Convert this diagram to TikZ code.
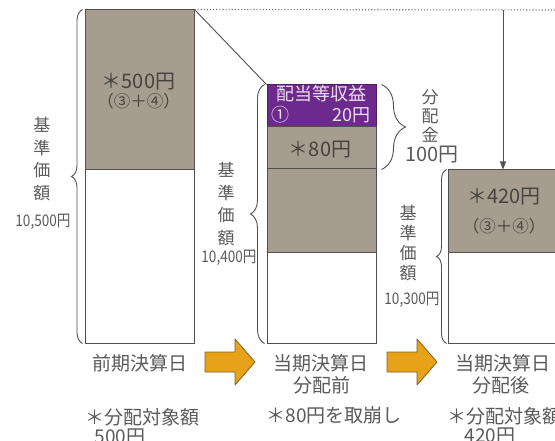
\documentclass[tikz,border=0pt]{standalone}
\usepackage{fontspec}
\usepackage{graphicx}
\newfontfamily\jp{Noto Sans CJK JP}
\usetikzlibrary{arrows.meta,decorations.pathreplacing}
\definecolor{blk}{HTML}{A69D90}
\definecolor{edge}{HTML}{505050}
\definecolor{txt}{HTML}{5A5A5A}
\definecolor{dtxt}{HTML}{48433E}
\definecolor{purp}{HTML}{6B2A8C}
\definecolor{lav}{HTML}{EEDDF5}
\definecolor{org}{HTML}{E8A21A}
\definecolor{orgedge}{HTML}{7A6420}
\begin{document}
\begin{tikzpicture}[x=1pt,y=-1pt,
  barbox/.style={draw=edge, line width=1pt, inner sep=0pt, minimum width=109pt},
  bracedraw/.style={draw=edge, line width=0.9pt, decorate, decoration={brace, amplitude=#1}},
  lbl/.style={font=\jp\fontsize{19}{22}\selectfont, text=txt, inner sep=0pt},
  inlbl/.style={font=\jp\fontsize{20}{22}\selectfont, text=dtxt, inner sep=0pt},
  parlbl/.style={font=\jp\fontsize{16.5}{18}\selectfont, text=dtxt, inner sep=0pt},
  vlbl/.style={font=\jp\fontsize{17}{#1}\selectfont, text=txt, inner sep=0pt, align=center},
  numlbl/.style={font=\jp\fontsize{16}{18}\selectfont, text=txt, inner sep=0pt},
  purlbl/.style={font=\jp\fontsize{18}{20}\selectfont, text=lav, inner sep=0pt},
  blockarrow/.style={fill=org, draw=orgedge, line width=0.8pt, line join=round}
]
\clip (0,0) rectangle (555,441);
\fill[white] (0,0) rectangle (555,441);

% bars
\node[barbox, fill=blk, minimum height=160pt] (b1g) at (139.5,90) {};
\node[barbox, fill=white, minimum height=173pt] (b1w) at (139.5,256.5) {};

\node[barbox, fill=purp, draw=purp!70!black, minimum height=42pt] (b2p) at (321.5,106) {};
\node[barbox, fill=blk, minimum height=42pt] (b2a) at (321.5,148) {};
\node[barbox, fill=blk, minimum height=84pt] (b2g) at (321.5,211) {};
\node[barbox, fill=white, minimum height=90pt] (b2w) at (321.5,298) {};

\node[barbox, fill=blk, minimum width=120pt, minimum height=83pt] (b3g) at (508,211.5) {};
\node[barbox, fill=white, minimum width=120pt, minimum height=90pt] (b3w) at (508,298) {};

% connectors
\coordinate (dotend) at (560,10);
\coordinate (arrtop) at (503,10);
\draw[edge, line width=0.9pt] (b1g.north east) -- (b2p.north west);
\draw[edge!80, line width=1.1pt, dotted] (b1g.north east) -- (dotend);
\draw[edge, line width=0.9pt, -{Triangle[width=6pt,length=8pt]}] (arrtop) -- (arrtop |- b3g.north);

% braces
\draw[bracedraw=11] ([xshift=-2pt]b1w.south west) -- ([xshift=-2pt]b1g.north west);
\draw[bracedraw=14] ([xshift=-2pt]b2w.south west) -- ([xshift=-2pt]b2p.north west);
\draw[bracedraw=10] ([xshift=-1pt]b3w.south west) -- ([xshift=-1pt]b3g.north west);
\draw[bracedraw=24] ([xshift=5pt]b2p.north east) -- ([xshift=5pt]b2a.south east);

% texts inside bars
\node[inlbl] (t500) at (138.5,82) {＊500円};
\node[parlbl] (p500) at (138.5,101) {（③＋④）};
\node[purlbl] (tp1) at (321,94) {配当等収益};
\node[purlbl] (tp2) at (280,115) {①};
\node[purlbl, anchor=east] (tp3) at (371,115) {20円};
\node[inlbl] (t80) at (320,150) {＊80円};
\node[inlbl] (t420) at (504,197) {＊420円};
\node[parlbl] (p420) at (504,226) {（③＋④）};

% vertical labels
\node[vlbl=22.7] (v1) at (42,159) {基\\準\\価\\額};
\node[numlbl] (n1) at (43,222) {\scalebox{0.85}[1]{10,500円}};
\node[vlbl=22.5] (v2) at (226,204) {基\\準\\価\\額};
\node[numlbl] (n2) at (229,258) {\scalebox{0.85}[1]{10,400円}};
\node[vlbl=20] (v3) at (408,243) {基\\準\\価\\額};
\node[numlbl] (n3) at (412,300) {\scalebox{0.85}[1]{10,300円}};
\node[vlbl=19] (v4) at (430,116) {分\\配\\金};
\node[font=\jp\fontsize{20}{22}\selectfont, text=txt, inner sep=0pt] (n4) at (432,155) {100円};

% block arrows
\path[blockarrow] (205,352) -- (235,352) -- (235,339) -- (255,362) -- (235,385) -- (235,372) -- (205,372) -- cycle;
\path[blockarrow] (387,352) -- (417,352) -- (417,339) -- (437,362) -- (417,385) -- (417,372) -- (387,372) -- cycle;

% bottom labels
\node[lbl] (d1) at (140,363) {前期決算日};
\node[lbl] (d2) at (321,363) {当期決算日};
\node[lbl] (d2b) at (322,385) {分配前};
\node[lbl] (d3) at (503,363) {当期決算日};
\node[lbl] (d3b) at (501,385) {分配後};
\node[lbl] (e1) at (142,417) {＊分配対象額};
\node[lbl] (e1b) at (120,437) {500円};
\node[lbl] (e2) at (334,415) {＊80円を取崩し};
\node[lbl, anchor=west] (e3) at (447,416) {＊分配対象額};
\node[lbl] (e3b) at (490,436) {420円};
\end{tikzpicture}
\end{document}
